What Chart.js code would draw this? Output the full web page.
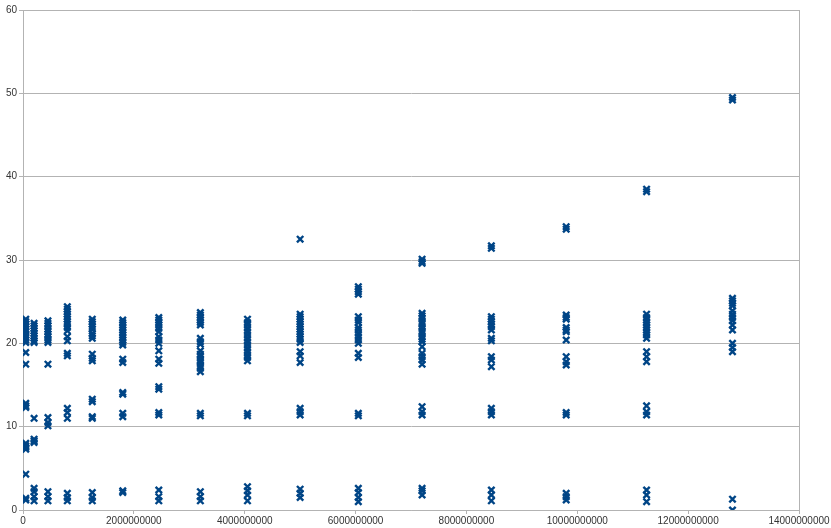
<!DOCTYPE html>
<html>
<head>
<meta charset="utf-8">
<script src="https://cdn.jsdelivr.net/npm/chart.js@4"></script>
<style>
  html, body { margin: 0; padding: 0; background: #fff; }
  #wrap { width: 831px; height: 528px; position: relative; }
</style>
</head>
<body>
<div id="wrap"><canvas id="chart"></canvas></div>
<script>
// x position of each column of points
const xValues = [5e7, 2e8, 4.5e8, 8e8, 1.25e9, 1.8e9, 2.45e9, 3.2e9, 4.05e9, 5e9, 6.05e9, 7.2e9, 8.45e9, 9.8e9, 1.125e10, 1.28e10];

// y values
const col01 = [22.9, 22.6, 22.3, 22.0, 21.7, 21.4, 21.0, 20.7, 20.4, 20.1, 18.9, 17.5, 12.8, 12.5, 12.3, 8.0, 7.7, 7.5, 7.3, 4.3, 1.4, 1.2];
const col02 = [22.4, 22.1, 21.8, 21.5, 21.2, 20.9, 20.6, 20.3, 20.1, 11.0, 8.5, 8.3, 8.1, 2.6, 2.2, 1.6, 1.1];
const col03 = [22.7, 22.4, 22.1, 21.7, 21.4, 21.1, 20.8, 20.4, 20.1, 17.5, 11.1, 10.5, 10.1, 2.2, 1.6, 1.1];
const col04 = [24.4, 24.1, 23.8, 23.5, 23.2, 22.9, 22.6, 22.3, 21.9, 21.5, 20.8, 20.3, 18.8, 18.5, 12.2, 11.7, 11.0, 2.0, 1.5, 1.1];
const col05 = [22.9, 22.6, 22.3, 22.0, 21.7, 21.2, 20.9, 20.6, 18.7, 18.2, 17.9, 13.3, 13.0, 11.2, 11.0, 2.1, 1.5, 1.1];
const col06 = [22.8, 22.5, 22.2, 21.9, 21.6, 21.3, 21.0, 20.7, 20.4, 20.1, 19.8, 18.1, 17.7, 14.1, 13.9, 11.6, 11.2, 2.3, 2.1];
const col07 = [23.1, 22.8, 22.5, 22.2, 21.8, 21.4, 20.8, 20.4, 20.0, 19.1, 18.1, 17.6, 14.8, 14.5, 11.7, 11.4, 2.4, 1.6, 1.1];
const col08 = [23.7, 23.4, 23.1, 22.8, 22.5, 22.2, 20.6, 20.2, 19.9, 19.1, 18.7, 18.4, 18.0, 17.7, 17.3, 17.0, 16.6, 11.6, 11.3, 2.2, 1.6, 1.1];
const col09 = [22.9, 22.5, 22.2, 21.8, 21.4, 21.0, 20.6, 20.2, 19.8, 19.4, 19.0, 18.6, 18.3, 17.9, 11.6, 11.3, 2.8, 2.3, 1.8, 1.1];
const col10 = [32.5, 23.5, 23.2, 22.9, 22.6, 22.3, 22.0, 21.7, 21.4, 21.1, 20.8, 20.5, 20.1, 19.0, 18.5, 17.7, 12.2, 11.8, 11.4, 2.5, 2.0, 1.5];
const col11 = [26.8, 26.5, 26.2, 25.9, 23.2, 22.8, 22.5, 21.9, 21.6, 21.2, 20.8, 20.4, 20.0, 18.8, 18.3, 11.6, 11.3, 2.6, 2.1, 1.5, 1.0];
const col12 = [30.1, 29.8, 29.6, 23.6, 23.3, 23.0, 22.6, 22.3, 21.9, 21.5, 21.2, 20.8, 20.5, 20.2, 19.6, 18.8, 18.4, 18.0, 17.5, 12.4, 11.8, 11.4, 2.6, 2.3, 1.8];
const col13 = [31.7, 31.4, 23.2, 22.9, 22.6, 22.3, 22.0, 21.6, 20.6, 20.3, 18.4, 18.0, 17.2, 12.2, 11.8, 11.4, 2.4, 1.8, 1.1];
const col14 = [34.0, 33.7, 23.4, 23.1, 22.9, 21.9, 21.6, 21.4, 20.4, 18.4, 17.8, 17.4, 11.7, 11.4, 2.0, 1.6, 1.2];
const col15 = [38.5, 38.2, 23.5, 23.1, 22.8, 22.5, 22.2, 21.9, 21.6, 21.3, 21.0, 20.6, 19.0, 18.4, 17.8, 12.5, 11.8, 11.4, 2.4, 1.8, 1.0];
const col16 = [49.5, 49.2, 25.4, 25.1, 24.8, 24.5, 23.9, 23.5, 23.1, 22.7, 22.2, 21.6, 20.0, 19.5, 19.0, 1.3, 0.0];

const columns = [col01, col02, col03, col04, col05, col06, col07, col08, col09, col10, col11, col12, col13, col14, col15, col16];

const yTicks = [0, 10, 20, 30, 40, 50, 60];
const xTicks = [0, 2e9, 4e9, 6e9, 8e9, 1e10, 1.2e10, 1.4e10];

const points = [];
columns.forEach((ys, i) => {
  ys.forEach(y => points.push({ x: xValues[i], y: y }));
});

const gridCol = "#b3b3b3";
const labelFont = { family: "Liberation Sans", size: 10 };

new Chart(document.getElementById("chart"), {
  type: "scatter",
  data: {
    datasets: [{
      data: points,
      pointStyle: "crossRot",
      pointRadius: 4.5,
      pointBorderWidth: 2.4,
      borderColor: "#004586",
      backgroundColor: "#004586"
    }]
  },
  options: {
    responsive: true,
    maintainAspectRatio: false,
    animation: false,
    layout: { padding: { top: 10, right: 32, left: 0, bottom: 0 } },
    plugins: { legend: { display: false }, tooltip: { enabled: false } },
    scales: {
      x: {
        type: "linear",
        min: 0,
        max: 1.4e10,
        afterBuildTicks: s => { s.ticks = xTicks.map(v => ({ value: v })); },
        afterFit: s => { s.height = 18; },
        ticks: {
          font: labelFont,
          color: "#333",
          padding: 1,
          maxRotation: 0,
          autoSkip: false,
          callback: v => String(v)
        },
        grid: {
          color: c => (c.tick && c.tick.value === 1.4e10 ? gridCol : "rgba(0,0,0,0)"),
          tickColor: gridCol,
          tickLength: 4,
          drawTicks: true
        },
        border: { color: gridCol }
      },
      y: {
        min: 0,
        max: 60,
        afterBuildTicks: s => { s.ticks = yTicks.map(v => ({ value: v })); },
        afterFit: s => { s.width = 23; },
        ticks: {
          font: labelFont,
          color: "#333",
          padding: 2,
          callback: v => String(v)
        },
        grid: { color: gridCol, tickColor: gridCol, tickLength: 4 },
        border: { color: gridCol }
      }
    }
  }
});
</script>
</body>
</html>
